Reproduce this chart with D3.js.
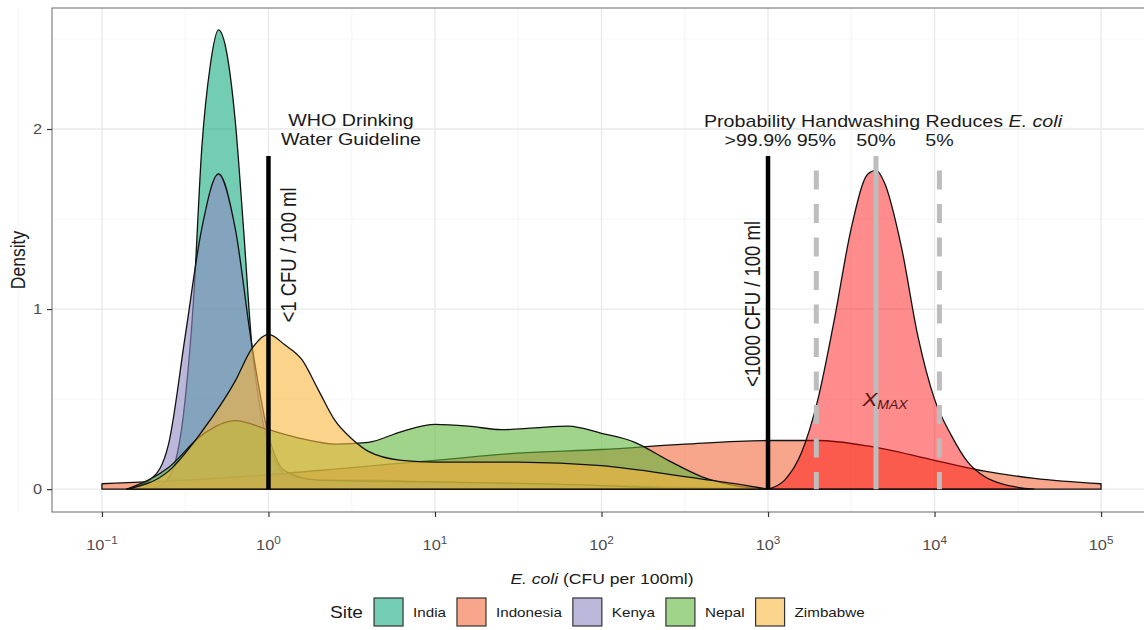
<!DOCTYPE html>
<html>
<head>
<meta charset="utf-8">
<script src="https://cdn.jsdelivr.net/npm/d3@7"></script>
<style>
body { margin: 0; background: #fff; }
text { font-family: "Liberation Sans", Arial, sans-serif; }
</style>
</head>
<body>
<div id="wrapper"></div>
<script>
// sites and fill colours
const sites = ["India", "Indonesia", "Kenya", "Nepal", "Zimbabwe"]
const siteColors = ["#16ac80", "#f26b3f", "#8f89c5", "#5fb73c", "#f8b63c"]

// density curves, x given as log10(E. coli CFU per 100ml)
const indiaLog = [-0.7, -0.6, -0.5, -0.45, -0.4, -0.35, -0.3, -0.25, -0.2, -0.15, -0.1, -0.05, 0, 0.05, 0.1, 0.3, 0.6, 1, 1.5, 2, 2.5, 3]
const indiaDens = [0, 0.06, 0.5, 1.05, 1.9, 2.35, 2.55, 2.42, 2.05, 1.45, 0.8, 0.45, 0.25, 0.14, 0.08, 0.05, 0.05, 0.04, 0.03, 0.02, 0.01, 0]

const indonesiaLog = [-1, -0.5, 0, 0.5, 1, 1.5, 2, 2.5, 3, 3.3, 3.6, 4, 4.3, 4.6, 5]
const indonesiaDens = [0.03, 0.05, 0.08, 0.12, 0.16, 0.2, 0.22, 0.25, 0.27, 0.27, 0.24, 0.16, 0.1, 0.06, 0.03]

const kenyaLog = [-0.85, -0.7, -0.6, -0.5, -0.4, -0.3, -0.2, -0.1, 0, 0.1, 0.3, 1, 2, 2.5]
const kenyaDens = [0, 0.06, 0.25, 0.85, 1.45, 1.75, 1.45, 0.8, 0.3, 0.1, 0.05, 0.04, 0.02, 0]

const nepalLog = [-0.85, -0.6, -0.4, -0.2, 0, 0.2, 0.4, 0.6, 0.8, 1, 1.2, 1.4, 1.6, 1.8, 2, 2.2, 2.4, 2.6, 2.8, 3]
const nepalDens = [0, 0.12, 0.3, 0.38, 0.33, 0.28, 0.25, 0.26, 0.32, 0.36, 0.35, 0.33, 0.34, 0.35, 0.31, 0.26, 0.16, 0.07, 0.02, 0]

const zimbabweLog = [-0.85, -0.6, -0.4, -0.2, -0.1, 0, 0.1, 0.2, 0.3, 0.4, 0.5, 0.6, 0.8, 1, 1.5, 2, 2.5, 2.8, 3]
const zimbabweDens = [0, 0.1, 0.32, 0.6, 0.78, 0.86, 0.8, 0.72, 0.55, 0.38, 0.28, 0.21, 0.16, 0.15, 0.15, 0.13, 0.07, 0.03, 0]

// X_MAX distribution
const xmaxLog = [3, 3.1, 3.2, 3.3, 3.4, 3.5, 3.6, 3.65, 3.7, 3.8, 3.9, 4, 4.1, 4.2, 4.3, 4.4, 4.6]
const xmaxDens = [0, 0.05, 0.2, 0.5, 0.95, 1.45, 1.75, 1.77, 1.7, 1.35, 0.85, 0.5, 0.3, 0.15, 0.07, 0.03, 0]

// reference lines (CFU per 100ml)
const guideValues = [1, 1000]
const probValues = [1950, 4450, 10700]
const probDashed = [true, false, true]
const probLabels = [">99.9%", "95%", "50%", "5%"]
const probLabelValues = [1000, 1950, 4450, 10700]
const lineTop = 1.85

const xTickExp = [-1, 0, 1, 2, 3, 4, 5]
const yTicks = [0, 1, 2]

const siteLogs = [indiaLog, indonesiaLog, kenyaLog, nepalLog, zimbabweLog]
const siteDens = [indiaDens, indonesiaDens, kenyaDens, nepalDens, zimbabweDens]

const SX = 1.17

function addText(parent, x, y, str, size, opt) {
    opt = opt || {}
    var t = parent.append("text")
        .attr("transform", "translate(" + x + "," + y + ") scale(" + SX + ",1)" + (opt.rotate ? " rotate(" + opt.rotate + ")" : ""))
        .attr("text-anchor", opt.anchor || "middle")
        .style("font-size", size + "px")
        .style("fill", opt.color || "#1a1a1a")
    if (opt.italic) t.style("font-style", "italic")
    if (str) t.text(str)
    return t
}

function draw() {
    const parent = d3.select("#wrapper")
    parent.selectAll("*").remove()

    var width = 1144
    var height = 630
    var svg = parent.append("svg")
        .attr("width", width)
        .attr("height", height)

    var left = 52, right = 1151, top = 8, bottom = 512

    var x = d3.scaleLog()
        .domain([Math.pow(10, -1.3), Math.pow(10, 5.3)])
        .range([left, right])
    var y = d3.scaleLinear()
        .domain([-0.127, 2.672])
        .range([bottom, top])

    svg.append("defs").append("clipPath").attr("id", "panel")
        .append("rect").attr("x", left).attr("y", top)
        .attr("width", right - left).attr("height", bottom - top)

    // grid
    var grid = svg.append("g")
    var minorX = d3.range(-1.5, 5.6, 1)
    grid.selectAll(".mx").data(minorX).enter().append("line")
        .attr("x1", d => x(Math.pow(10, d))).attr("x2", d => x(Math.pow(10, d)))
        .attr("y1", top).attr("y2", bottom)
        .attr("stroke", "#f3f3f3").attr("stroke-width", 0.8)
    grid.selectAll(".my").data([0.5, 1.5, 2.5]).enter().append("line")
        .attr("x1", left).attr("x2", right)
        .attr("y1", d => y(d)).attr("y2", d => y(d))
        .attr("stroke", "#f3f3f3").attr("stroke-width", 0.8)
    grid.selectAll(".Mx").data(xTickExp).enter().append("line")
        .attr("x1", d => x(Math.pow(10, d))).attr("x2", d => x(Math.pow(10, d)))
        .attr("y1", top).attr("y2", bottom)
        .attr("stroke", "#e8e8e8").attr("stroke-width", 1.3)
    grid.selectAll(".My").data(yTicks).enter().append("line")
        .attr("x1", left).attr("x2", right)
        .attr("y1", d => y(d)).attr("y2", d => y(d))
        .attr("stroke", "#e8e8e8").attr("stroke-width", 1.3)

    var plot = svg.append("g").attr("clip-path", "url(#panel)")

    var area = d3.area()
        .x(d => x(Math.pow(10, d[0])))
        .y0(y(0))
        .y1(d => y(d[1]))
        .curve(d3.curveMonotoneX)

    function pts(lx, dv) {
        return lx.map((v, i) => [v, dv[i]])
    }

    sites.forEach(function (s, i) {
        var p = pts(siteLogs[i], siteDens[i])
        plot.append("path")
            .attr("d", area(p) + "Z")
            .attr("fill", siteColors[i])
            .attr("fill-opacity", 0.6)
            .attr("stroke", "#111")
            .attr("stroke-width", 1.3)
            .attr("stroke-linejoin", "round")
    })

    plot.append("path")
        .attr("d", area(pts(xmaxLog, xmaxDens)) + "Z")
        .attr("fill", "#ff0000")
        .attr("fill-opacity", 0.45)
        .attr("stroke", "#111")
        .attr("stroke-width", 1.3)

    // probability lines
    probValues.forEach(function (v, i) {
        plot.append("line")
            .attr("x1", x(v)).attr("x2", x(v))
            .attr("y1", y(lineTop)).attr("y2", y(0))
            .attr("stroke", "#bdbdbd")
            .attr("stroke-width", 5)
            .attr("stroke-dasharray", probDashed[i] ? "19,14.5" : null)
            .attr("stroke-dashoffset", probDashed[i] ? 19 : null)
    })

    // guideline lines
    guideValues.forEach(function (v) {
        plot.append("line")
            .attr("x1", x(v)).attr("x2", x(v))
            .attr("y1", y(lineTop)).attr("y2", y(0))
            .attr("stroke", "#000")
            .attr("stroke-width", 4.5)
    })

    // annotations
    addText(svg, 351, 126, "WHO Drinking", 16.8)
    addText(svg, 351, 145, "Water Guideline", 16.8)
    addText(svg, 296, 255, "<1 CFU / 100 ml", 18.5, { rotate: -90 })
    addText(svg, 760, 304, "<1000 CFU / 100 ml", 18.5, { rotate: -90 })

    var pt = addText(svg, 883, 127, null, 16.8)
    pt.append("tspan").text("Probability Handwashing Reduces ")
    pt.append("tspan").style("font-style", "italic").text("E. coli")

    probLabels.forEach(function (l, i) {
        var xx = x(probLabelValues[i]) + (i == 0 ? -10 : 0)
        addText(svg, xx, 146, l, 16.8)
    })

    var xm = addText(svg, 885, 406, null, 19, { color: "#5c1515" })
    xm.append("tspan").style("font-style", "italic").text("X")
    xm.append("tspan").style("font-style", "italic").style("font-size", "12px").attr("dy", 3).text("MAX")

    // border
    svg.append("rect")
        .attr("x", left).attr("y", top)
        .attr("width", right - left).attr("height", bottom - top)
        .attr("fill", "none")
        .attr("stroke", "#8a8a8a")
        .attr("stroke-width", 1.3)

    // axes
    var xAxis = d3.axisBottom(x)
        .tickValues(xTickExp.map(e => Math.pow(10, e)))
        .tickSize(5)
        .tickFormat("")
    var gx = svg.append("g")
        .attr("transform", "translate(0," + bottom + ")")
        .call(xAxis)
    gx.select(".domain").remove()
    gx.selectAll(".tick line").attr("stroke", "#333").attr("stroke-width", 1.2)

    xTickExp.forEach(function (e) {
        var t = addText(svg, x(Math.pow(10, e)), 550, null, 14, { color: "#4d4d4d" })
        t.append("tspan").text("10")
        t.append("tspan").attr("dy", -6).style("font-size", "10px").text(String(e).replace("-", "\u2212"))
    })

    var yAxis = d3.axisLeft(y)
        .tickValues(yTicks)
        .tickSize(5)
        .tickFormat("")
    var gy = svg.append("g")
        .attr("transform", "translate(" + left + ",0)")
        .call(yAxis)
    gy.select(".domain").remove()
    gy.selectAll(".tick line").attr("stroke", "#333").attr("stroke-width", 1.2)
    yTicks.forEach(function (v) {
        addText(svg, 42, y(v) + 5, String(v), 14, { anchor: "end", color: "#4d4d4d" })
    })

    // axis titles
    addText(svg, 25, 260, "Density", 17.5, { rotate: -90 })
    var xt = addText(svg, 602, 584, null, 15)
    xt.append("tspan").style("font-style", "italic").text("E. coli")
    xt.append("tspan").text(" (CFU per 100ml)")

    // legend
    var leg = svg.append("g")
    var cx = 330
    var st = addText(leg, cx, 618, "Site", 16.4, { anchor: "start" })
    cx += st.node().getComputedTextLength() * SX + 11
    sites.forEach(function (s, i) {
        leg.append("rect")
            .attr("x", cx).attr("y", 598)
            .attr("width", 29).attr("height", 28)
            .attr("fill", siteColors[i])
            .attr("fill-opacity", 0.6)
            .attr("stroke", "#333")
            .attr("stroke-width", 1.2)
        cx += 29 + 10
        var t = addText(leg, cx, 617, s, 13, { anchor: "start", color: "#1a1a1a" })
        cx += t.node().getComputedTextLength() * SX + 11
    })
}
draw()
</script>
</body>
</html>
